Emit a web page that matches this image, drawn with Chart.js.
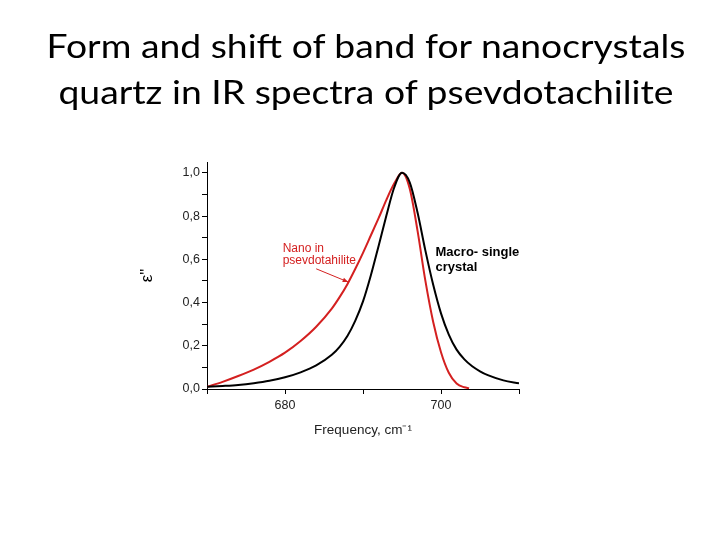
<!DOCTYPE html>
<html>
<head>
<meta charset="utf-8">
<script src="https://cdn.jsdelivr.net/npm/chart.js@4"></script>
<style>
  body { margin: 0; background: #fff; }
  #wrap { position: relative; width: 720px; height: 540px; }
  #spectra { position: absolute; left: 0; top: 0; }
  #title {
    position: absolute; left: 0; top: 22px; width: 732px;
    text-align: center; font-family: Lato, sans-serif; font-size: 33px;
    line-height: 46px; color: #000;
    transform: scaleX(1.13); transform-origin: 366px 0;
  }
</style>
</head>
<body>
<div id="wrap">
  <canvas id="spectra" width="720" height="540"></canvas>
  <div id="title">Form and shift of band for nanocrystals<br>quartz in IR spectra of psevdotachilite</div>
</div>
<script>
// Macro single crystal band (black)
const freqMacro = [670, 672, 674, 676, 678, 680, 682, 684, 686, 687, 688, 689, 690, 691, 692, 693,
  694, 695, 696, 697, 698, 699, 700, 701, 702, 703, 704, 705, 706, 708, 710]
const epsMacro = [0.010, 0.014, 0.019, 0.027, 0.038, 0.054, 0.077, 0.109, 0.158, 0.195, 0.245, 0.315,
  0.405, 0.525, 0.662, 0.802, 0.932, 1.000, 0.955, 0.815, 0.640, 0.482, 0.350, 0.252, 0.182, 0.137,
  0.105, 0.082, 0.064, 0.040, 0.026]

// Nano in psevdotahilite (red)
const freqNano = [670, 672, 674, 676, 678, 680, 682, 684, 686, 687, 688, 689, 690, 691, 692, 693,
  694, 695, 696, 697, 698, 699, 700, 701, 702, 703, 703.6]
const epsNano = [0.010, 0.033, 0.060, 0.090, 0.126, 0.168, 0.222, 0.288, 0.372, 0.425, 0.485, 0.555,
  0.630, 0.710, 0.790, 0.875, 0.950, 1.000, 0.925, 0.730, 0.500, 0.310, 0.170, 0.075, 0.025, 0.008, 0.004]

const xTicks = [670, 680, 690, 700, 710]
const xLabeled = [680, 700]
const yTicks = [0, 0.1, 0.2, 0.3, 0.4, 0.5, 0.6, 0.7, 0.8, 0.9, 1.0]
const yLabeled = [0, 0.2, 0.4, 0.6, 0.8, 1.0]

const red = '#d42020'
const tickFont = { family: 'Liberation Sans', size: 12.5 }

const toPoints = (xs, ys) => xs.map((f, i) => ({ x: f, y: ys[i] }))

// text labels + arrow, placed in data coordinates
const notes = {
  id: 'notes',
  afterDatasetsDraw(chart) {
    const { ctx, scales: { x, y } } = chart
    ctx.save()
    ctx.textBaseline = 'alphabetic'
    ctx.textAlign = 'left'
    ctx.fillStyle = red
    ctx.font = '12px "Liberation Sans"'
    ctx.fillText('Nano in', x.getPixelForValue(679.7), y.getPixelForValue(0.636))
    ctx.fillText('psevdotahilite', x.getPixelForValue(679.7), y.getPixelForValue(0.578))

    // arrow
    const x0 = x.getPixelForValue(684.0), y0 = y.getPixelForValue(0.556)
    const x1 = x.getPixelForValue(688.1), y1 = y.getPixelForValue(0.495)
    const a = Math.atan2(y1 - y0, x1 - x0)
    ctx.strokeStyle = red
    ctx.lineWidth = 1
    ctx.beginPath()
    ctx.moveTo(x0, y0)
    ctx.lineTo(x1, y1)
    ctx.stroke()
    ctx.beginPath()
    ctx.moveTo(x1, y1)
    ctx.lineTo(x1 - 6 * Math.cos(a - 0.4), y1 - 6 * Math.sin(a - 0.4))
    ctx.lineTo(x1 - 6 * Math.cos(a + 0.4), y1 - 6 * Math.sin(a + 0.4))
    ctx.closePath()
    ctx.fill()

    ctx.fillStyle = '#000'
    ctx.font = 'bold 13px "Liberation Sans"'
    ctx.fillText('Macro- single', x.getPixelForValue(699.3), y.getPixelForValue(0.614))
    ctx.fillText('crystal', x.getPixelForValue(699.3), y.getPixelForValue(0.544))
    ctx.restore()
  },
}

const ctxSpectra = document.getElementById('spectra').getContext('2d')

const configSpectra = {
  type: 'line',
  data: {
    datasets: [
      {
        label: 'Macro- single crystal',
        data: toPoints(freqMacro, epsMacro),
        borderColor: '#000',
        borderWidth: 2,
        pointRadius: 0,
        cubicInterpolationMode: 'monotone',
      },
      {
        label: 'Nano in psevdotahilite',
        data: toPoints(freqNano, epsNano),
        borderColor: red,
        borderWidth: 2,
        pointRadius: 0,
        cubicInterpolationMode: 'monotone',
      },
    ],
  },
  options: {
    responsive: false,
    devicePixelRatio: 1,
    animation: false,
    layout: { padding: { left: 137, right: 201, top: 162, bottom: 101 } },
    plugins: {
      legend: { display: false },
      tooltip: { enabled: false },
    },
    scales: {
      x: {
        type: 'linear',
        min: 670,
        max: 710,
        afterFit: s => { s.height = 50 },
        afterBuildTicks: s => { s.ticks = xTicks.map(v => ({ value: v })) },
        ticks: {
          callback: v => (xLabeled.includes(v) ? String(v) : ''),
          color: '#222',
          font: tickFont,
          padding: 4,
          maxRotation: 0,
        },
        grid: { drawOnChartArea: false, tickLength: 5, tickColor: '#000' },
        border: { color: '#000', width: 1 },
        title: {
          display: true,
          text: 'Frequency, cm\u207B\u00B9',
          color: '#222',
          font: { family: 'Liberation Sans', size: 13.5 },
          padding: { top: 0, bottom: 1 },
        },
      },
      y: {
        type: 'linear',
        min: 0,
        max: 1.05,
        afterFit: s => { s.width = 70 },
        afterBuildTicks: s => { s.ticks = yTicks.map(v => ({ value: v })) },
        ticks: {
          callback: v => (yLabeled.includes(v) ? v.toFixed(1).replace('.', ',') : ''),
          color: '#222',
          font: tickFont,
          padding: 2,
        },
        grid: { drawOnChartArea: false, tickLength: 5, tickColor: '#000' },
        border: { color: '#000', width: 1 },
        title: {
          display: true,
          text: 'ε"',
          color: '#000',
          font: { family: 'Liberation Sans', size: 17 },
          padding: 0,
        },
      },
    },
  },
  plugins: [notes],
}

const spectraChart = new Chart(ctxSpectra, configSpectra)
</script>
</body>
</html>
